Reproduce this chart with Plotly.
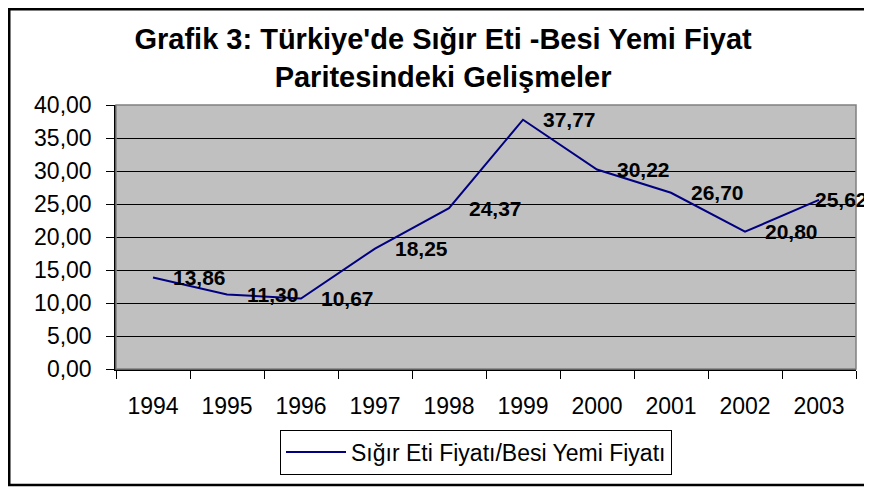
import plotly.graph_objects as go

years = ["1994", "1995", "1996", "1997", "1998", "1999", "2000", "2001", "2002", "2003"]
ratio = [13.86, 11.30, 10.67, 18.25, 24.37, 37.77, 30.22, 26.70, 20.80, 25.62]
label_text = ["13,86", "11,30", "10,67", "18,25", "24,37", "37,77", "30,22", "26,70", "20,80", "25,62"]

FONT = "Arial, Liberation Sans, sans-serif"

# page has an 8px body margin, so the figure is 8px smaller than the window
W, H = 864, 480
L, R, T, B = 108, 16, 97, 119
PW, PH = W - L - R, H - T - B

fig = go.Figure()
fig.add_trace(go.Scatter(
    x=years, y=ratio, mode="lines",
    name="Sığır Eti Fiyatı/Besi Yemi Fiyatı",
    line=dict(color="#000080", width=2),
))

# data labels to the right of each point (last one pulled back inside)
# category axis: annotation x given as category index
for i, (v, t) in enumerate(zip(ratio, label_text)):
    fig.add_annotation(
        x=i, y=v, text="<b>%s</b>" % t, showarrow=False,
        xanchor="left", yanchor="middle",
        xshift=-6 if i == len(years) - 1 else 18,
        font=dict(family=FONT, size=21, color="black"),
    )

# gray border around plot area
fig.add_shape(type="rect", xref="paper", yref="paper", x0=0, x1=1, y0=0, y1=1,
              line=dict(color="#808080", width=1.5), layer="above")
# outer chart frame
fig.add_shape(type="rect", xref="paper", yref="paper",
              x0=(1.25 - L) / PW, x1=(858 - L) / PW,
              y0=(T + PH - 477) / PH, y1=(T + PH - 1.25) / PH,
              line=dict(color="black", width=2.5))

fig.update_layout(
    width=W, height=H,
    margin=dict(l=L, r=R, t=T, b=B),
    paper_bgcolor="white", plot_bgcolor="#C0C0C0",
    separators=", ",
    font=dict(family=FONT, size=23, color="black"),
    title=dict(
        text="<b>Grafik 3: Türkiye'de Sığır Eti -Besi Yemi Fiyat<br>Paritesindeki Gelişmeler</b>",
        font=dict(family=FONT, size=29, color="black"),
        x=0.442, xref="paper", xanchor="center",
        y=1 - 41 / H, yref="container", yanchor="middle",
    ),
    showlegend=True,
    legend=dict(
        x=(476 - 8 - L) / PW, y=(T + PH - 444) / PH, xanchor="center", yanchor="middle",
        xref="paper", yref="paper",
        bgcolor="white", bordercolor="black", borderwidth=1,
        font=dict(family=FONT, size=23, color="black"),
        itemwidth=60,
    ),
    xaxis=dict(
        type="category", tickson="boundaries", range=[-0.5, len(years) - 0.5],
        showline=True, linecolor="black", linewidth=1.5,
        ticks="outside", ticklen=8, tickcolor="black",
        showgrid=False, ticklabelstandoff=16, tickangle=0,
        tickfont=dict(family=FONT, size=23),
    ),
    yaxis=dict(
        range=[0, 40], dtick=5, tickformat=".2f",
        showline=True, linecolor="black", linewidth=1.5,
        ticks="outside", ticklen=8, tickcolor="black",
        showgrid=True, gridcolor="black", gridwidth=1,
        zeroline=False, ticklabelstandoff=10,
        tickfont=dict(family=FONT, size=23),
    ),
)

fig.write_html("out.html")
